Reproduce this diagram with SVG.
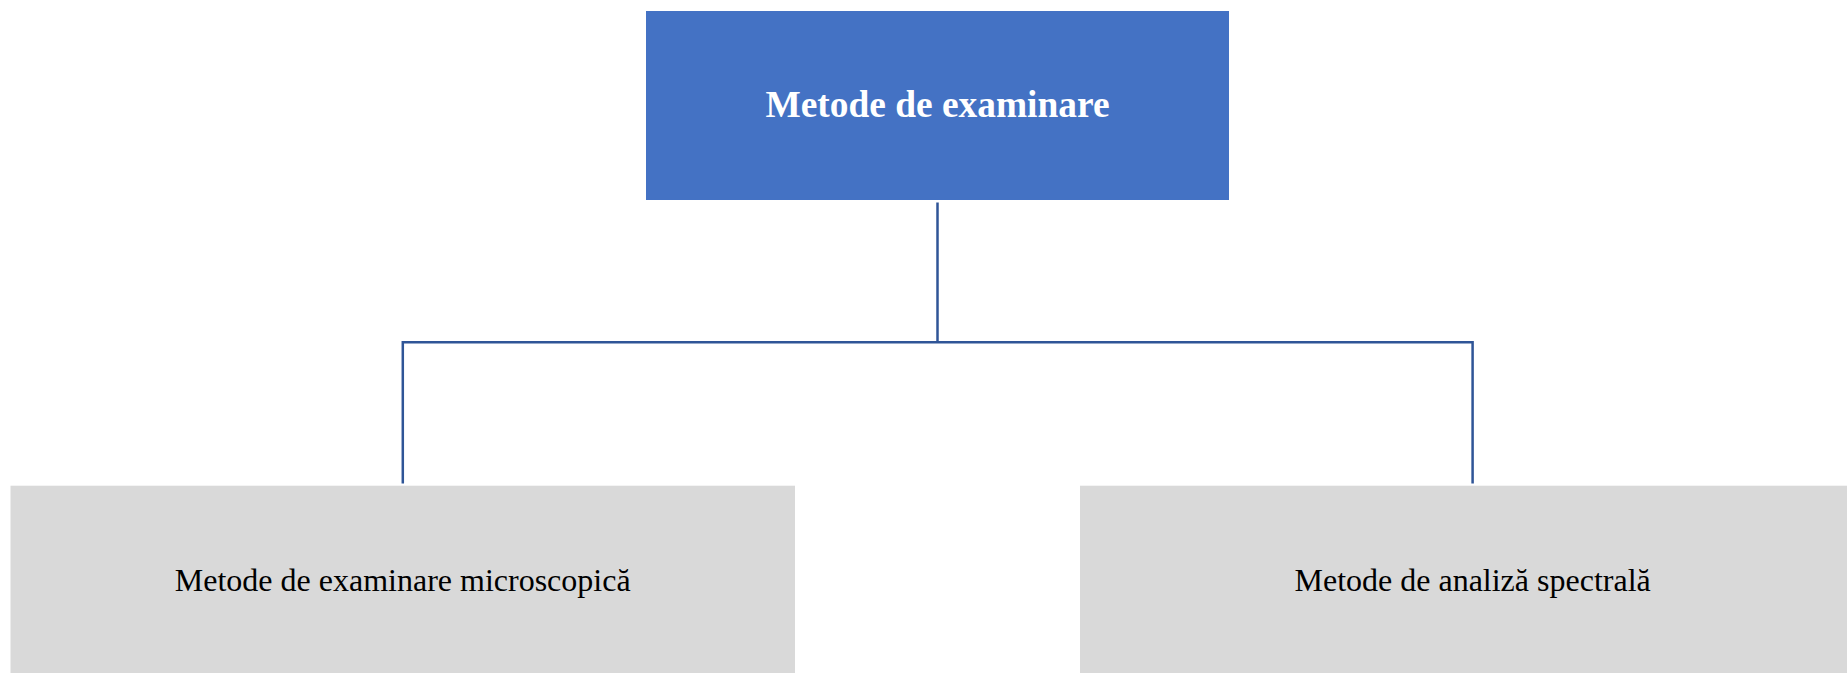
<svg xmlns="http://www.w3.org/2000/svg" width="1847" height="673" viewBox="0 0 1847 673">
<style>
.root{fill:#4472C4}
.leaf{fill:#D9D9D9}
.conn{fill:none;stroke:#2F5597;stroke-width:2.5}
.t1{font-family:"Liberation Serif","Times New Roman",serif;font-weight:bold;font-size:37.4px;fill:#FFFFFF;text-anchor:middle}
.t2{font-family:"Liberation Serif","Times New Roman",serif;font-size:32px;fill:#000000;text-anchor:middle}
</style>
<rect width="1847" height="673" fill="#FFFFFF"/>
<g id="connectors">
<path class="conn" d="M937.5,202.5 V342.3"/>
<path class="conn" d="M402.8,483.5 V342.3 H1472.6 V483.5"/>
</g>
<g id="node-root">
<rect class="root" x="646" y="11" width="583" height="189"/>
<text class="t1" x="937.5" y="116.7">Metode de examinare</text>
</g>
<g id="node-microscopica">
<rect class="leaf" x="10.5" y="485.7" width="784.5" height="200"/>
<text class="t2" x="402.7" y="590.7">Metode de examinare microscopică</text>
</g>
<g id="node-spectrala">
<rect class="leaf" x="1080" y="485.7" width="785" height="200"/>
<text class="t2" x="1472.6" y="590.7">Metode de analiză spectrală</text>
</g>
</svg>
